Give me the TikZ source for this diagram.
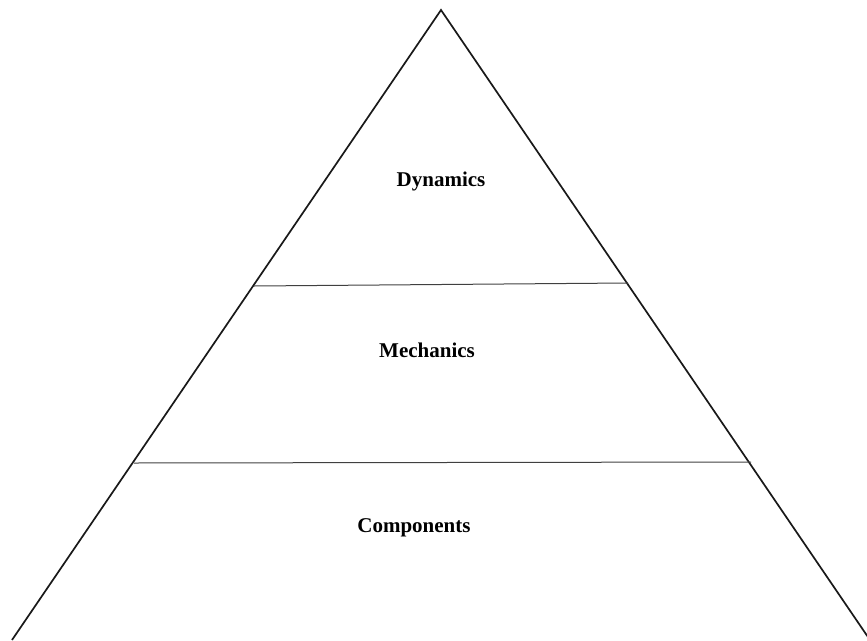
\documentclass[tikz,border=0pt]{standalone}
\usepackage{fontspec}
\setmainfont{Liberation Serif}
\begin{document}
\begin{tikzpicture}[x=1pt,y=-1pt,
  edge/.style={line width=1.7pt,black!90},
  divider/.style={line width=1pt,black!75},
  label/.style={font=\fontsize{21}{24}\selectfont\bfseries,anchor=base,inner sep=0pt}]
\useasboundingbox (0,0) rectangle (867,640);
\coordinate (apex) at (441,10);
\coordinate (bl) at (12,640);
\coordinate (br) at (870,640);
\clip (0,0) rectangle (867,640);
\draw[edge,line join=miter] (bl) -- (apex) -- (br);
\coordinate (u1) at (254,286);
\coordinate (u2) at (628,283);
\coordinate (l1) at (134,463);
\coordinate (l2) at (751,462);
\draw[divider] (u1) -- (u2);
\draw[divider] (l1) -- (l2);
\node[label] (dyn) at (441,186) {Dynamics};
\node[label] (mech) at (427,357) {Mechanics};
\node[label] (comp) at (414,532) {Components};
\end{tikzpicture}
\end{document}
